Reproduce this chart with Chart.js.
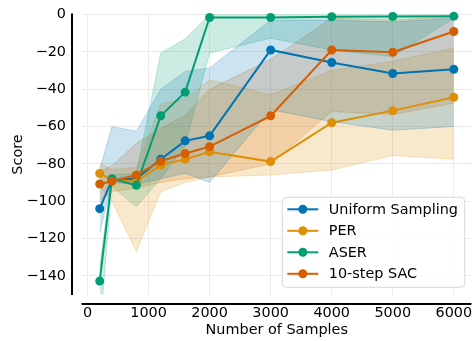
<!DOCTYPE html>
<html>
<head>
<meta charset="utf-8">
<script src="https://cdn.jsdelivr.net/npm/chart.js@4.4.1/dist/chart.umd.min.js"></script>
<style>
html,body{margin:0;padding:0;background:#fff;}
#wrap{width:476px;height:341px;position:relative;}
</style>
</head>
<body>
<div id="wrap"><canvas id="c" width="476" height="341"></canvas></div>
<script>
// ---- data ----
const samples = [200, 400, 800, 1200, 1600, 2000, 3000, 4000, 5000, 6000];

const uniformMean = [-104, -88.6, -88, -77.5, -67.7, -65, -19, -25.7, -31.6, -29.3];
const uniformLow  = [-117, -90, -91, -88, -85, -90, -51, -57.4, -62, -60];
const uniformHigh = [-83, -60, -62.5, -40, -30.5, -28.6, -3, -3, -4, -2];

const perMean = [-85.2, -88.6, -89.5, -80.6, -77.5, -73.5, -78.8, -58, -51.5, -44.3];
const perLow  = [-92, -100, -127, -95, -90, -87, -86, -83.3, -75.6, -77.5];
const perHigh = [-79.5, -83, -82, -48, -45, -35, -43, -30, -25, -18];

const aserMean = [-142.8, -88, -91.5, -54.3, -41.6, -1.6, -1.6, -1.2, -1.1, -0.9];
const aserLow  = [-170, -92, -103, -88, -70, -20.6, -12.7, -19, -22.5, -2];
const aserHigh = [-135, -86, -85, -20.6, -13, 0, 0, 0, 0, 0];

const sacMean = [-90.8, -89.3, -86, -78.6, -74.5, -70.8, -54.3, -19, -20.2, -9.1];
const sacLow  = [-100, -95, -93, -90, -88, -87, -80, -52, -53.6, -47.5];
const sacHigh = [-84, -81, -69, -61, -54, -40, -24, -2, -3, -1];

const seriesNames = ['Uniform Sampling', 'PER', 'ASER', '10-step SAC'];
const xTickValues = [0, 1000, 2000, 3000, 4000, 5000, 6000];
const yTickValues = [0, -20, -40, -60, -80, -100, -120, -140];

// ---- styles ----
const colors = ['#0173b2', '#de8f05', '#029e73', '#d55e00'];
function rgba(hex, a){
  const n = parseInt(hex.slice(1), 16);
  return `rgba(${(n>>16)&255},${(n>>8)&255},${n&255},${a})`;
}
const series = [
  [uniformMean, uniformLow, uniformHigh],
  [perMean, perLow, perHigh],
  [aserMean, aserLow, aserHigh],
  [sacMean, sacLow, sacHigh]
];
const pts = arr => arr.map((v, i) => ({x: samples[i], y: v}));

const datasets = [];
// bands
series.forEach((s, k) => {
  datasets.push({
    label: '_low' + k, data: pts(s[1]), borderColor: rgba(colors[k], 0.22), borderWidth: 1,
    pointRadius: 0, fill: false, order: 100 + k
  });
  datasets.push({
    label: '_high' + k, data: pts(s[2]), borderColor: rgba(colors[k], 0.22), borderWidth: 1,
    backgroundColor: rgba(colors[k], 0.2), pointRadius: 0, fill: '-1', order: 100 + k
  });
});
// lines
series.forEach((s, k) => {
  datasets.push({
    label: seriesNames[k], data: pts(s[0]), borderColor: colors[k], backgroundColor: colors[k],
    borderWidth: 2, pointRadius: 4.5, pointBorderWidth: 0, pointBackgroundColor: colors[k],
    fill: false, order: 4 - k, clip: false
  });
});

const FONT = 'DejaVu Sans';
const FS = 14.4;

const spines = {
  id: 'spines',
  afterDraw(chart) {
    const {ctx, chartArea: a} = chart;
    ctx.save();
    ctx.strokeStyle = '#000';
    ctx.lineWidth = 2;
    ctx.beginPath(); ctx.moveTo(a.left - 10, a.top - 1); ctx.lineTo(a.left - 10, a.bottom + 0.5); ctx.stroke();
    ctx.beginPath(); ctx.moveTo(a.left - 0.5, a.bottom + 9.5); ctx.lineTo(a.right, a.bottom + 9.5); ctx.stroke();
    ctx.restore();
  }
};

const boxLegend = {
  id: 'boxLegend',
  afterDraw(chart) {
    const {ctx, chartArea: a} = chart;
    const w = 182.5, h = 90, x = a.right - 6.7 - w, y = a.bottom - 7.2 - h;
    ctx.save();
    ctx.beginPath();
    if (ctx.roundRect) ctx.roundRect(x, y, w, h, 4); else ctx.rect(x, y, w, h);
    ctx.fillStyle = 'rgba(255,255,255,0.8)';
    ctx.fill();
    ctx.strokeStyle = '#d6d6d6';
    ctx.lineWidth = 1;
    ctx.stroke();
    ctx.font = `${FS}px "${FONT}"`;
    ctx.textBaseline = 'middle';
    ctx.textAlign = 'left';
    const lines = chart.data.datasets.filter(d => !d.label.startsWith('_'));
    lines.forEach((d, i) => {
      const ry = y + 12 + i * 21.5;
      ctx.strokeStyle = d.borderColor; ctx.lineWidth = 2;
      ctx.beginPath(); ctx.moveTo(x + 5, ry); ctx.lineTo(x + 36, ry); ctx.stroke();
      ctx.fillStyle = d.borderColor;
      ctx.beginPath(); ctx.arc(x + 20.5, ry, 4.5, 0, Math.PI * 2); ctx.fill();
      ctx.fillStyle = '#000';
      ctx.fillText(d.label, x + 46.5, ry + 0.5);
    });
    ctx.restore();
  }
};

Chart.defaults.font.family = FONT;
Chart.defaults.font.size = FS;
Chart.defaults.color = '#000';

new Chart(document.getElementById('c'), {
  type: 'line',
  data: {datasets},
  options: {
    responsive: false,
    animation: false,
    layout: {padding: {top: 14.5, left: 0, right: 0, bottom: 0}},
    plugins: {legend: {display: false}, tooltip: {enabled: false}},
    elements: {line: {tension: 0}},
    scales: {
      x: {
        type: 'linear', min: -90, max: 6290,
        afterBuildTicks: s => { s.ticks = xTickValues.map(v => ({value: v})); },
        afterFit: s => { s.height = 46.5; s.paddingLeft = 0; s.paddingRight = 0; },
        grid: {color: '#ebebeb', lineWidth: 1, drawTicks: false},
        border: {display: false},
        ticks: {padding: 10, maxRotation: 0, callback: v => String(v)},
        title: {display: true, text: 'Number of Samples', padding: {top: 0, bottom: 2}}
      },
      y: {
        type: 'linear', min: -150, max: 0,
        afterBuildTicks: s => { s.ticks = yTickValues.map(v => ({value: v})); },
        afterFit: s => { s.width = 82; s.paddingTop = 0; s.paddingBottom = 0; },
        grid: {color: '#ebebeb', lineWidth: 1, drawTicks: false},
        border: {display: false},
        ticks: {padding: 16, callback: v => v < 0 ? '\u2212' + Math.abs(v) : String(v)},
        title: {display: true, text: 'Score', padding: {top: 9.4, bottom: 0}}
      }
    }
  },
  plugins: [spines, boxLegend]
});
</script>
</body>
</html>
